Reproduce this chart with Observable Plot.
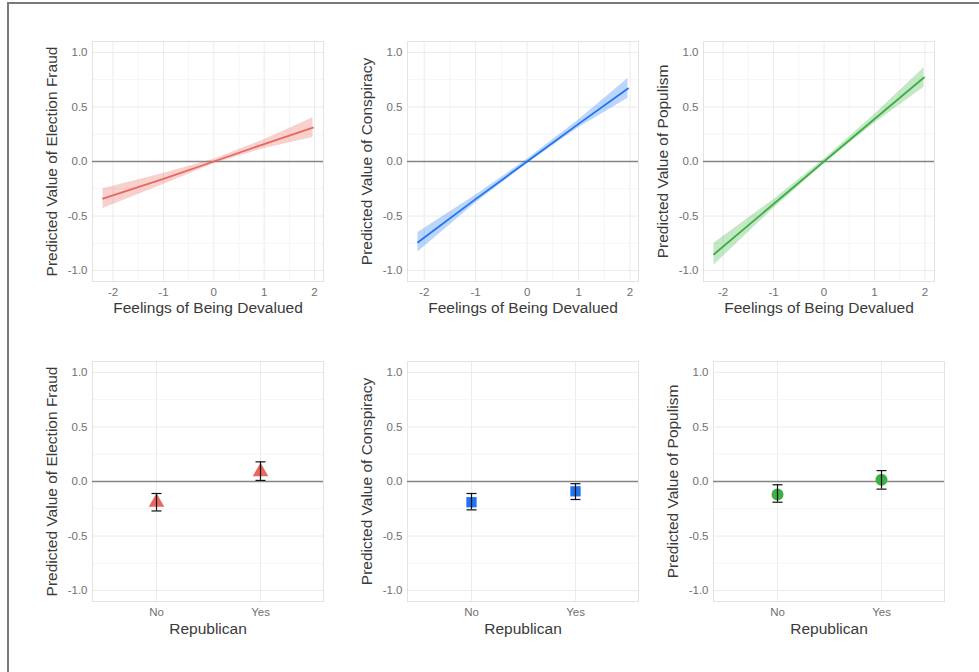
<!DOCTYPE html>
<html><head><meta charset="utf-8">
<script src="https://cdn.jsdelivr.net/npm/d3@7"></script>
<script src="https://cdn.jsdelivr.net/npm/@observablehq/plot@0.6"></script>
<style>
body{margin:0;background:#fff;}
#chart{position:relative;width:979px;height:672px;overflow:hidden;font-family:"Liberation Sans",Arial,sans-serif;background:#fff;}
#border{position:absolute;left:7px;top:2px;width:1000px;height:700px;border-top:2px solid #7a7a7a;border-left:2px solid #7a7a7a;}
</style></head><body><div id="chart"><div id="border"></div></div>
<script>
// ---- data ----
const yTicks = [-1, -0.5, 0, 0.5, 1];
const yMinor = [-0.75, -0.25, 0.25, 0.75];
const xTicks = [-2, -1, 0, 1, 2];
const xMinor = [-1.5, -0.5, 0.5, 1.5];
const republican = ["No", "Yes"];

const xTitleTop = "Feelings of Being Devalued";
const xTitleBottom = "Republican";
const yTitles = ["Predicted Value of Election Fraud", "Predicted Value of Conspiracy", "Predicted Value of Populism"];

// top row: predicted value vs feelings of being devalued
const fraudX = [-2.2, -1, 0, 1, 1.97];
const fraudFit = [-0.34, -0.16, 0.0, 0.16, 0.31];
const fraudLo = [-0.43, -0.21, -0.02, 0.12, 0.22];
const fraudHi = [-0.25, -0.11, 0.02, 0.20, 0.40];

const conspX = [-2.12, -1, 0, 1, 1.96];
const conspFit = [-0.74, -0.345, 0.0, 0.345, 0.67];
const conspLo = [-0.83, -0.38, -0.02, 0.31, 0.58];
const conspHi = [-0.65, -0.31, 0.02, 0.38, 0.76];

const populX = [-2.18, -1, 0, 1, 1.98];
const populFit = [-0.85, -0.39, 0.0, 0.39, 0.77];
const populLo = [-0.95, -0.43, -0.02, 0.35, 0.68];
const populHi = [-0.75, -0.35, 0.02, 0.43, 0.86];

// bottom row: predicted value by Republican
const fraudRep = [-0.19, 0.09];
const fraudRepLo = [-0.27, 0.01];
const fraudRepHi = [-0.11, 0.18];

const conspRep = [-0.19, -0.09];
const conspRepLo = [-0.26, -0.165];
const conspRepHi = [-0.11, -0.02];

const populRep = [-0.12, 0.015];
const populRepLo = [-0.19, -0.07];
const populRepHi = [-0.03, 0.10];

const colors = ["#e8675e", "#1f74f2", "#3cb043"];
const symbols = ["triangle", "square", "circle"];
const symbolR = [5.8, 5.8, 6];

// ---- helpers ----
const chart = document.getElementById("chart");
const FONT = "'Liberation Sans', Arial, sans-serif";
const ML = 60, MR = 10, MT = 10, MB = 50, FW = 231, FH = 240;
const capSymbol = {draw(ctx, size) { const w = Math.sqrt(size); ctx.moveTo(-w, 0); ctx.lineTo(w, 0); }};
const capR = Math.sqrt(25 / Math.PI);

function place(svg, left, top) {
  svg.style.position = "absolute";
  svg.style.left = left + "px";
  svg.style.top = top + "px";
  chart.appendChild(svg);
}

function commonY(yTitle) {
  return [
    Plot.gridY(yMinor, {stroke: "#f5f5f5", strokeOpacity: 1}),
    Plot.gridY(yTicks, {stroke: "#ebebeb", strokeOpacity: 1}),
    Plot.axisY(yTicks, {tickSize: 0, tickPadding: 5, tickFormat: d => d.toFixed(1), fill: "#707070", fontSize: 11.5, label: null}),
    Plot.text([yTitle], {text: d => d, frameAnchor: "left", textAnchor: "middle", rotate: -90, dx: -40, fontSize: 15.5, fill: "#3a3a3a", lineAnchor: "middle"})
  ];
}

function linePanel(xs, fit, lo, hi, color, yTitle, left, top) {
  const rows = xs.map((x, i) => ({x, fit: fit[i], lo: lo[i], hi: hi[i]}));
  const ext = d3.extent(xs);
  const pad = (ext[1] - ext[0]) * 0.05;
  const svg = Plot.plot({
    width: ML + FW + MR, height: MT + FH + MB,
    marginLeft: ML, marginRight: MR, marginTop: MT, marginBottom: MB,
    style: {fontFamily: FONT, background: "transparent", overflow: "visible"},
    x: {domain: [ext[0] - pad, ext[1] + pad]},
    y: {domain: [-1.1, 1.1]},
    marks: [
      Plot.gridX(xMinor, {stroke: "#f5f5f5", strokeOpacity: 1}),
      Plot.gridX(xTicks, {stroke: "#ebebeb", strokeOpacity: 1}),
      ...commonY(yTitle),
      Plot.frame({stroke: "#e3e3e3"}),
      Plot.ruleY([0], {stroke: "#858585", strokeWidth: 1.5}),
      Plot.areaY(rows, {x: "x", y1: "lo", y2: "hi", fill: color, fillOpacity: 0.3}),
      Plot.line(rows, {x: "x", y: "fit", stroke: color, strokeWidth: 1.8}),
      Plot.axisX(xTicks, {tickSize: 0, tickPadding: 6, tickFormat: d => String(d), fill: "#707070", fontSize: 11.5, label: null}),
      Plot.text([xTitleTop], {text: d => d, frameAnchor: "bottom", dy: 27, fontSize: 15.5, fill: "#3a3a3a", lineAnchor: "middle"})
    ]
  });
  place(svg, left - ML, top - MT);
}

function pointPanel(vals, lo, hi, color, symbol, r, yTitle, left, top) {
  const rows = republican.map((c, i) => ({c, v: vals[i], lo: lo[i], hi: hi[i]}));
  const svg = Plot.plot({
    width: ML + FW + MR, height: MT + FH + MB,
    marginLeft: ML, marginRight: MR, marginTop: MT, marginBottom: MB,
    style: {fontFamily: FONT, background: "transparent", overflow: "visible"},
    x: {type: "point", domain: republican, padding: 0.6},
    y: {domain: [-1.1, 1.1]},
    marks: [
      Plot.gridX(republican, {stroke: "#ebebeb", strokeOpacity: 1}),
      ...commonY(yTitle),
      Plot.frame({stroke: "#e3e3e3"}),
      Plot.ruleY([0], {stroke: "#858585", strokeWidth: 1.5}),
      Plot.dot(rows, {x: "c", y: "v", symbol, r, fill: color, stroke: "none"}),
      Plot.ruleX(rows, {x: "c", y1: "lo", y2: "hi", stroke: "#111", strokeWidth: 1.2}),
      Plot.dot(rows, {x: "c", y: "lo", symbol: capSymbol, r: capR, stroke: "#111", fill: "none", strokeWidth: 1.2}),
      Plot.dot(rows, {x: "c", y: "hi", symbol: capSymbol, r: capR, stroke: "#111", fill: "none", strokeWidth: 1.2}),
      Plot.axisX(republican, {tickSize: 0, tickPadding: 6, fill: "#707070", fontSize: 11.5, label: null}),
      Plot.text([xTitleBottom], {text: d => d, frameAnchor: "bottom", dy: 28, fontSize: 15.5, fill: "#3a3a3a", lineAnchor: "middle"})
    ]
  });
  place(svg, left - ML, top - MT);
}

linePanel(fraudX, fraudFit, fraudLo, fraudHi, colors[0], yTitles[0], 92, 41);
linePanel(conspX, conspFit, conspLo, conspHi, colors[1], yTitles[1], 407, 41);
linePanel(populX, populFit, populLo, populHi, colors[2], yTitles[2], 703, 41);

pointPanel(fraudRep, fraudRepLo, fraudRepHi, colors[0], symbols[0], symbolR[0], yTitles[0], 92, 361);
pointPanel(conspRep, conspRepLo, conspRepHi, colors[1], symbols[1], symbolR[1], yTitles[1], 407, 361);
pointPanel(populRep, populRepLo, populRepHi, colors[2], symbols[2], symbolR[2], yTitles[2], 713, 361);
</script>
</body></html>
